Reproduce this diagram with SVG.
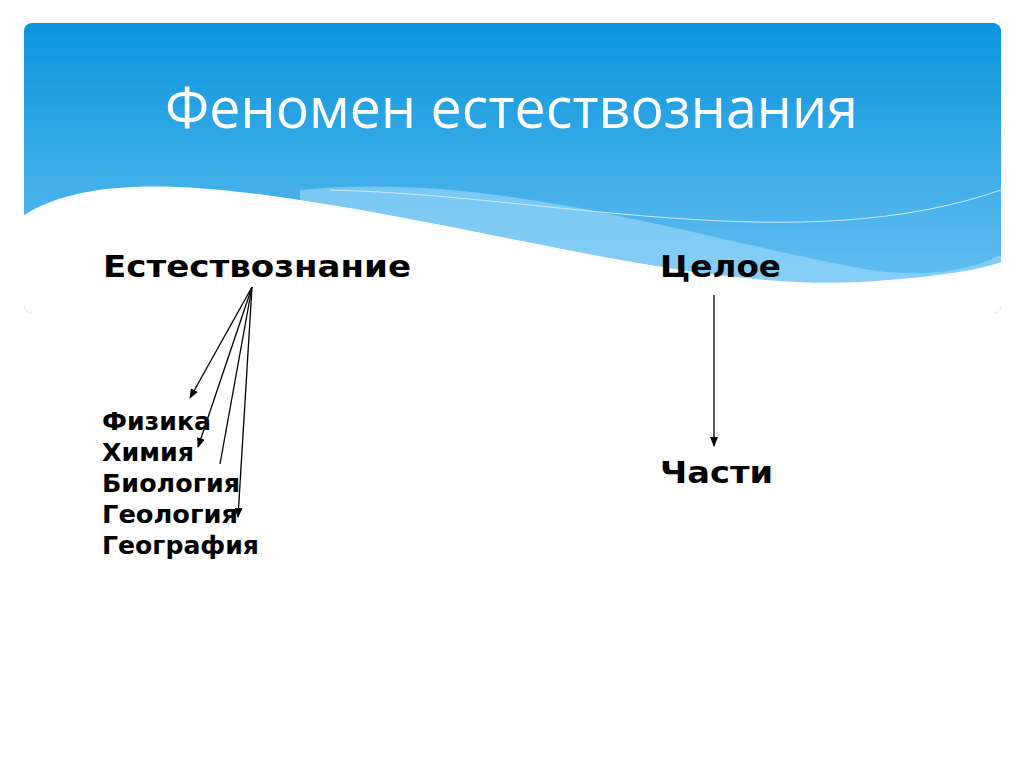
<svg xmlns="http://www.w3.org/2000/svg" width="1024" height="767" viewBox="0 0 1024 767">
<defs>
<linearGradient id="g" x1="0" y1="0" x2="0" y2="1"><stop offset="0" stop-color="#0a94dc"/><stop offset="1" stop-color="#6cc4f4"/></linearGradient>
<clipPath id="c"><rect x="24" y="23" width="977" height="290" rx="8"/></clipPath>
<marker id="a" markerWidth="10" markerHeight="8" refX="9" refY="4" orient="auto" markerUnits="userSpaceOnUse"><path d="M0,0 L10,4 L0,8 Z" fill="#000"/></marker>
<style>.t{font-family:"DejaVu Sans",Verdana,sans-serif;font-weight:bold;fill:#000}.s{font-size:24px}.l{font-size:31px}.e{stroke:#000;stroke-width:1.3;fill:none}</style>
</defs>
<rect width="1024" height="767" fill="#fff"/>
<g clip-path="url(#c)">
<rect x="24" y="23" width="977" height="290" fill="url(#g)"/>
<path d="M300,190 C500,170 700,240 870,270 C940,280 980,265 1001,255 L1001,320 L300,320 Z" fill="#9fd8f8" opacity="0.6"/>
<path d="M24,215 C80,180 170,180 300,200 C500,230 700,290 860,282 C930,278 980,270 1001,262 L1001,320 L24,320 Z" fill="#fff"/>
<path d="M330,190 C550,195 800,260 1001,190" stroke="#cdeafb" stroke-width="1" fill="none"/>
</g>
<g id="title"><text x="165" y="128" font-family="'Open Sans',sans-serif" font-size="56" fill="#fff" textLength="693" lengthAdjust="spacingAndGlyphs">Феномен естествознания</text></g>
<g id="n1"><text class="t l" x="103" y="277" textLength="308" lengthAdjust="spacingAndGlyphs">Естествознание</text></g>
<g id="n2"><text class="t l" x="660" y="277" textLength="121" lengthAdjust="spacingAndGlyphs">Целое</text></g>
<g id="n3"><text class="t l" x="660" y="483" textLength="113" lengthAdjust="spacingAndGlyphs">Части</text></g>
<g id="list" class="t s">
<text x="102" y="430" textLength="109" lengthAdjust="spacingAndGlyphs">Физика</text>
<text x="102" y="461" textLength="92" lengthAdjust="spacingAndGlyphs">Химия</text>
<text x="102" y="492" textLength="138" lengthAdjust="spacingAndGlyphs">Биология</text>
<text x="102" y="523" textLength="136" lengthAdjust="spacingAndGlyphs">Геология</text>
<text x="102" y="554" textLength="157" lengthAdjust="spacingAndGlyphs">География</text>
</g>
<g id="connectors">
<line class="e" x1="252" y1="287" x2="190" y2="398" marker-end="url(#a)"/>
<line class="e" x1="252" y1="287" x2="198" y2="447" marker-end="url(#a)"/>
<line class="e" x1="252" y1="287" x2="220" y2="464"/>
<line class="e" x1="252" y1="287" x2="238" y2="517" marker-end="url(#a)"/>
<line class="e" x1="714" y1="295" x2="714" y2="446" marker-end="url(#a)"/>
</g>
</svg>
